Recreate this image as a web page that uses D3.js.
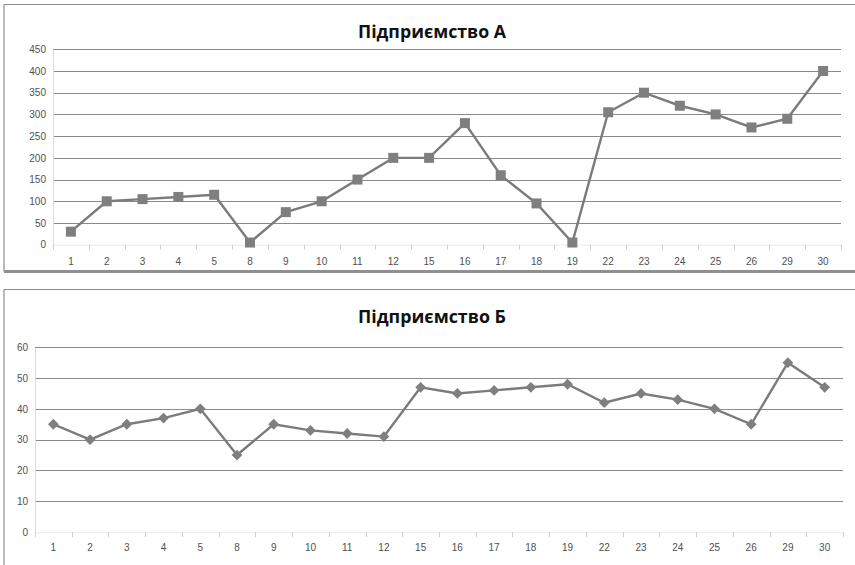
<!DOCTYPE html>
<html><head><meta charset="utf-8">
<script src="https://cdn.jsdelivr.net/npm/d3@7"></script>
<style>body{margin:0;background:#fff}svg{display:block}</style>
</head><body>
<svg id="c" width="855" height="565"></svg>
<script>
const categories = ["1","2","3","4","5","8","9","10","11","12","15","16","17","18","19","22","23","24","25","26","29","30"];
const valuesA = [30,100,105,110,115,5,75,100,150,200,200,280,160,95,5,305,350,320,300,270,290,400];
const valuesB = [35,30,35,37,40,25,35,33,32,31,47,45,46,47,48,42,45,43,40,35,55,47];
const ticksA = [0,50,100,150,200,250,300,350,400,450];
const ticksB = [0,10,20,30,40,50,60];
const titleA = "Підприємство А";
const titleB = "Підприємство Б";

const svg = d3.select("#c");
const gridCol = "#8a8a8a", lineCol = "#7b7b7b", markCol = "#7f7f7f";

function panel(cfg){
  const g = svg.append("g");
  g.append("line").attr("x1",4).attr("x2",855).attr("y1",cfg.frameTop).attr("y2",cfg.frameTop).attr("stroke","#8c8c8c").attr("stroke-width",1.2);
  g.append("line").attr("x1",4).attr("x2",4).attr("y1",cfg.frameTop).attr("y2",cfg.frameBottom).attr("stroke","#8c8c8c").attr("stroke-width",1.2);
  if(cfg.thickBottom) g.append("line").attr("x1",4).attr("x2",855).attr("y1",cfg.frameBottom).attr("y2",cfg.frameBottom).attr("stroke","#8f8f8f").attr("stroke-width",3);

  const x = d3.scaleBand().domain(categories).range([cfg.x0,cfg.x1]);
  const y = d3.scaleLinear().domain([0,cfg.max]).range([cfg.y0,cfg.yTop]);

  g.append("g").selectAll("line").data(cfg.ticks.filter(t=>t>0)).join("line")
    .attr("x1",cfg.x0).attr("x2",cfg.x1).attr("y1",d=>Math.round(y(d))+0.5).attr("y2",d=>Math.round(y(d))+0.5)
    .attr("stroke",gridCol).attr("stroke-width",1);

  const ya = g.append("g").attr("transform",`translate(${cfg.x0},0)`)
    .call(d3.axisLeft(y).tickValues(cfg.ticks).tickSize(0).tickPadding(7));
  ya.select(".domain").attr("stroke","#dcdcdc");
  ya.selectAll("text").attr("font-family","Liberation Sans, Arial, sans-serif").attr("font-size",10).attr("fill","#505050");

  const xa = g.append("g").attr("transform",`translate(0,${cfg.y0})`)
    .call(d3.axisBottom(x).tickSize(0).tickPadding(cfg.xPad));
  xa.select(".domain").attr("stroke","#ececec");
  xa.selectAll("text").attr("font-family","Liberation Sans, Arial, sans-serif").attr("font-size",10).attr("fill","#505050");
  const bounds = categories.map(c=>x(c)).concat([cfg.x1]);
  g.append("g").selectAll("line").data(bounds).join("line")
    .attr("x1",d=>Math.round(d)+0.5).attr("x2",d=>Math.round(d)+0.5).attr("y1",cfg.y0).attr("y2",cfg.y0+5)
    .attr("stroke","#cfcfcf");

  const cx = c => x(c)+x.bandwidth()/2;
  g.append("path").datum(cfg.values)
    .attr("d", d3.line().x((d,i)=>cx(categories[i])).y(d=>y(d)))
    .attr("fill","none").attr("stroke",lineCol).attr("stroke-width",2.4);

  const sym = d3.symbol().type(d3.symbolSquare).size(cfg.markerSize);
  g.append("g").selectAll("path").data(cfg.values).join("path")
    .attr("d",sym)
    .attr("transform",(d,i)=>`translate(${cx(categories[i])},${y(d)})${cfg.rotate?" rotate(45)":""}`)
    .attr("fill",markCol);

  g.append("text").attr("x",432).attr("y",cfg.titleY).attr("text-anchor","middle")
    .attr("font-family","Open Sans, Noto Sans, sans-serif").attr("font-weight",700).attr("font-size",18)
    .attr("textLength",148).attr("lengthAdjust","spacingAndGlyphs")
    .attr("fill","#111").text(cfg.title);
}

panel({values:valuesA,ticks:ticksA,max:450,x0:53,x1:841,y0:244.7,yTop:49.3,frameTop:4.5,frameBottom:271.5,thickBottom:true,
  rotate:false,markerSize:100,title:titleA,titleY:38,xPad:13});
panel({values:valuesB,ticks:ticksB,max:60,x0:35,x1:843,y0:532,yTop:347.3,frameTop:289.5,frameBottom:565,thickBottom:false,
  rotate:true,markerSize:58,title:titleB,titleY:322.5,xPad:12});
</script>
</body></html>
